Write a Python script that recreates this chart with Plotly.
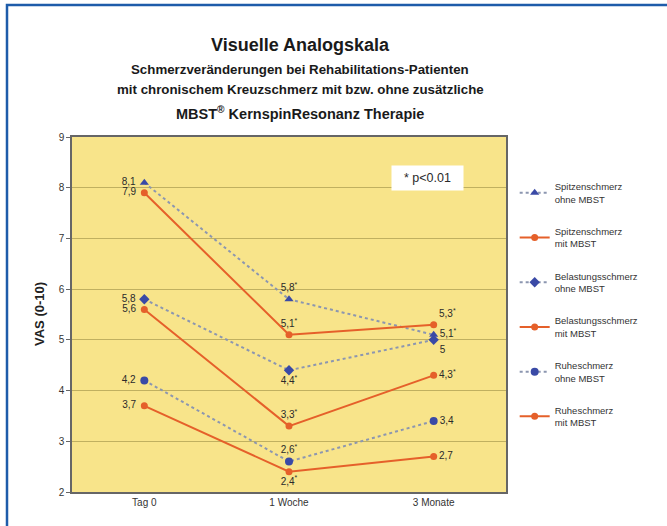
import plotly.graph_objects as go

categories = ["Tag 0", "1 Woche", "3 Monate"]

spitzen_ohne = [8.1, 5.8, 5.1]
spitzen_mit = [7.9, 5.1, 5.3]
belastung_ohne = [5.8, 4.4, 5.0]
belastung_mit = [5.6, 3.3, 4.3]
ruhe_ohne = [4.2, 2.6, 3.4]
ruhe_mit = [3.7, 2.4, 2.7]

series_names = [
    "Spitzenschmerz<br>ohne MBST",
    "Spitzenschmerz<br>mit MBST",
    "Belastungsschmerz<br>ohne MBST",
    "Belastungsschmerz<br>mit MBST",
    "Ruheschmerz<br>ohne MBST",
    "Ruheschmerz<br>mit MBST",
]

labels_spitzen_ohne = ["8,1 ", "5,8<sup>*</sup>", "5,1<sup>*</sup>"]
labels_spitzen_mit = ["7,9 ", "5,1<sup>*</sup>", "5,3<sup>*</sup>"]
labels_belastung_ohne = ["5,8 ", "4,4<sup>*</sup>", "5"]
labels_belastung_mit = ["5,6 ", "3,3<sup>*</sup>", "4,3<sup>*</sup>"]
labels_ruhe_ohne = ["4,2 ", "2,6<sup>*</sup>", "3,4"]
labels_ruhe_mit = ["3,7 ", "2,4<sup>*</sup>", "2,7"]

BLUE = "#3A4AA6"
ORANGE = "#E5602A"
DOT = "#8C96B0"
TXT = "#2a2a2a"
FONT = "Arial, Liberation Sans, sans-serif"

fig = go.Figure()

def add(vals, labels, name, ohne, symbol, positions):
    fig.add_trace(go.Scatter(
        x=categories, y=vals, name=name, legendgroup=name,
        mode="lines+markers+text",
        text=labels, textposition=positions,
        textfont=dict(family=FONT, size=10, color=TXT),
        line=dict(color=DOT if ohne else ORANGE, width=2,
                  dash="dot" if ohne else "solid"),
        marker=dict(symbol=symbol, size=8 if ohne else 7,
                    color=BLUE if ohne else ORANGE),
        cliponaxis=False,
    ))

add(spitzen_ohne, labels_spitzen_ohne, series_names[0], True, "triangle-up",
    ["middle left", "top center", "middle right"])
add(spitzen_mit, labels_spitzen_mit, series_names[1], False, "circle",
    ["middle left", "top center", "top right"])
add(belastung_ohne, labels_belastung_ohne, series_names[2], True, "diamond",
    ["middle left", "bottom center", "bottom right"])
add(belastung_mit, labels_belastung_mit, series_names[3], False, "circle",
    ["middle left", "top center", "middle right"])
add(ruhe_ohne, labels_ruhe_ohne, series_names[4], True, "circle",
    ["middle left", "top center", "middle right"])
add(ruhe_mit, labels_ruhe_mit, series_names[5], False, "circle",
    ["middle left", "bottom center", "middle right"])

fig.add_annotation(x=1.96, y=8.19, xref="x", yref="y", text="&nbsp;&nbsp;* p<0.01&nbsp;&nbsp;",
                   showarrow=False, bgcolor="white", borderpad=5,
                   font=dict(family=FONT, size=12.5, color=TXT))

W, H = 667, 526
L, R, T, B = 72, 161, 137, 34
pw, ph = W - L - R, H - T - B

titles = [
    ("<b>Visuelle Analogskala</b>", 18, 45),
    ("<b>Schmerzveränderungen bei Rehabilitations-Patienten</b>", 13.3, 69),
    ("<b>mit chronischem Kreuzschmerz mit bzw. ohne zusätzliche</b>", 13.3, 90),
    ("<b>MBST<sup>®</sup> KernspinResonanz Therapie</b>", 14.5, 113),
]
for txt, sz, ypx in titles:
    fig.add_annotation(x=(300 - L) / pw, y=(H - B - ypx) / ph, xref="paper", yref="paper",
                       text=txt, showarrow=False, xanchor="center", yanchor="middle",
                       font=dict(family=FONT, size=sz, color="#1a1a1a"))

fig.add_annotation(x=(30 - L) / pw, y=0.5, xref="paper", yref="paper",
                   text="<b>VAS (0-10)</b>", textangle=-90, showarrow=False,
                   font=dict(family=FONT, size=13, color="#222"))

# blue frame
fig.add_shape(type="rect", xref="paper", yref="paper",
              x0=(7 - L) / pw, x1=(W + 20 - L) / pw,
              y0=(H - B - (H + 20)) / ph, y1=(H - B - 5) / ph,
              line=dict(color="#1E5CAA", width=2.5), layer="below")

fig.update_layout(
    width=W, height=H,
    margin=dict(l=L, r=R, t=T, b=B),
    paper_bgcolor="white",
    plot_bgcolor="#F8E48A",
    showlegend=True,
    legend=dict(x=1.02, y=(H - B - 174) / ph, xanchor="left", yanchor="top",
                font=dict(family=FONT, size=9.5, color="#333"),
                bgcolor="rgba(0,0,0,0)", tracegroupgap=17, itemwidth=30),
    xaxis=dict(range=[-0.5, 2.5], showgrid=False, ticks="",
               tickfont=dict(family=FONT, size=10, color="#333"),
               showline=True, linecolor="#666", linewidth=1.5, mirror=True),
    yaxis=dict(range=[2, 9], dtick=1, showgrid=True, gridcolor="#C0B060", gridwidth=1,
               tickfont=dict(family=FONT, size=10, color="#333"),
               showline=True, linecolor="#666", linewidth=1.5, mirror=True,
               ticks="outside", ticklen=4, tickcolor="#666", zeroline=False),
)

fig.write_html("out.html")
